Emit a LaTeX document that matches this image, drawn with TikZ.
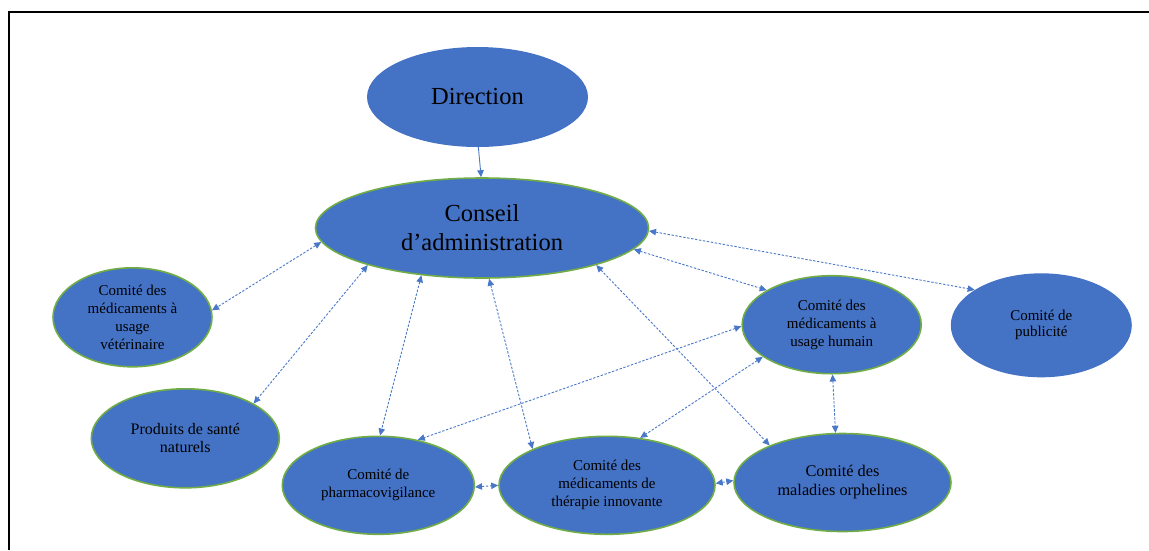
\documentclass[tikz,border=0pt]{standalone}
\usepackage{fontspec}
\setmainfont{Liberation Serif}
\usetikzlibrary{shapes.geometric,arrows.meta}
\definecolor{obl}{HTML}{4472C4}
\definecolor{ogr}{HTML}{70AD47}
\definecolor{conn}{HTML}{4A78C8}
\tikzset{
  blob/.style={ellipse, fill=obl, inner sep=0pt, align=center, text=black},
  gblob/.style={blob, draw=ogr, line width=1.6pt},
  link/.style={conn, line width=0.9pt, dash pattern=on 2.4pt off 1.6pt,
     {Triangle[length=7pt,width=6.5pt]}-{Triangle[length=7pt,width=6.5pt]}},
  solidlink/.style={conn, line width=0.9pt, -{Triangle[length=7pt,width=6.5pt]}},
  small/.style={font=\fontsize{15}{18}\selectfont},
}
\begin{document}
\begin{tikzpicture}[x=1pt,y=-1pt]
\useasboundingbox (0,0) rectangle (1149,550);
% frame
\draw[line width=2pt] (9,550) -- (9,11.5) -- (1149,11.5);

\node[blob, minimum width=221pt, minimum height=100pt, font=\fontsize{24.5}{29}\selectfont] (dir) at (477.5,97) {Direction};
\node[gblob, minimum width=333pt, minimum height=100pt, font=\fontsize{24.5}{29}\selectfont] (cons) at (482,228) {Conseil\\d’administration};
\node[gblob, minimum width=159pt, minimum height=99pt, small] (vet) at (132.5,317.3) {Comité des\\médicaments à\\usage\\vétérinaire};
\node[gblob, minimum width=188pt, minimum height=99pt, font=\fontsize{16}{18.3}\selectfont] (prod) at (185.3,438.3) {Produits de santé\\naturels};
\node[gblob, minimum width=192pt, minimum height=98pt, small] (pharm) at (378.3,485.3) {Comité de\\pharmacovigilance};
\node[gblob, minimum width=216pt, minimum height=98pt, small] (ther) at (607,485.3) {Comité des\\médicaments de\\thérapie innovante};
\node[gblob, minimum width=217pt, minimum height=98pt, font=\fontsize{16.3}{19}\selectfont] (orph) at (842.5,482.5) {Comité des\\maladies orphelines};
\node[gblob, minimum width=179pt, minimum height=98pt, small] (hum) at (831.7,324.7) {Comité des\\médicaments à\\usage humain};
\node[blob, minimum width=181pt, minimum height=104pt, font=\fontsize{15}{16}\selectfont] (pub) at (1041.3,325.3) {Comité de\\publicité};

\draw[solidlink] (dir.271.7) -- (cons.91.1);
\draw[link] (cons.185.2) -- (vet.5.2);
\draw[link] (cons.198.2) -- (prod.27.7);
\draw[link] (cons.218) -- (pharm.88.1);
\draw[link] (cons.278.7) -- (ther.154.3);
\draw[link] (cons.342.6) -- (orph.153.6);
\draw[link] (cons.352.2) -- (hum.152.5);
\draw[link] (cons.359.6) -- (pub.152);
\draw[link] (hum.181.2) -- (pharm.49.6);
\draw[link] (hum.205.1) -- (ther.55.4);
\draw[link] (hum.271.1) -- (orph.98.1);
\draw[link] (pharm.359.2) -- (ther.180.7);
\draw[link] (ther.1.3) -- (orph.179.6);
\end{tikzpicture}
\end{document}
